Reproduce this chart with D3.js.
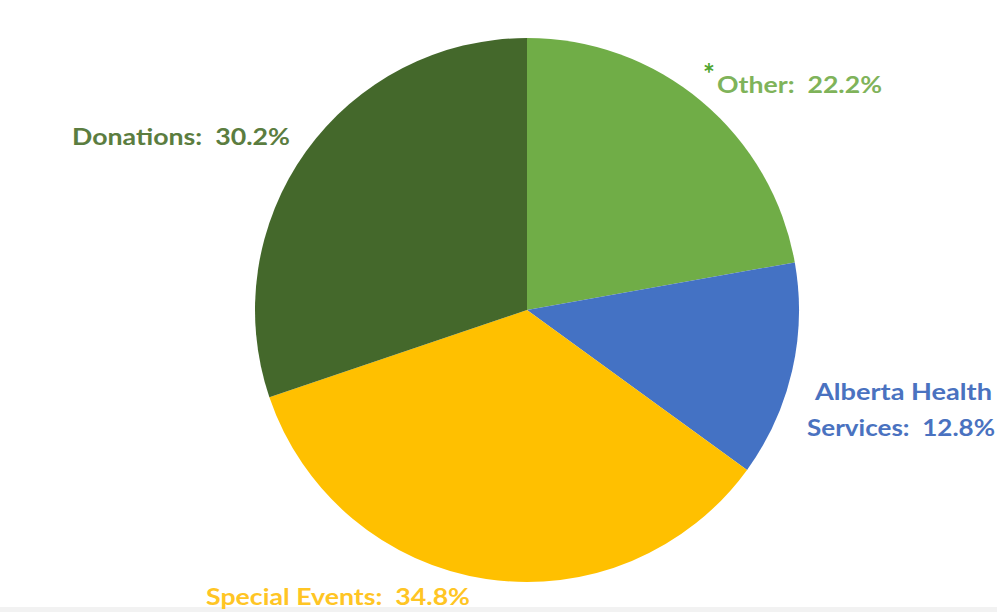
<!DOCTYPE html>
<html>
<head>
<meta charset="utf-8">
<script src="https://d3js.org/d3.v7.min.js"></script>
<style>
  body { margin: 0; background: #fff; }
  svg { display: block; }
  text { font-family: Lato, "Open Sans", sans-serif; font-weight: bold; white-space: pre; }
</style>
</head>
<body>
<div id="chart"></div>
<script>
// data
var categories = ["Other", "Alberta Health Services", "Special Events", "Donations"];
var values = [22.2, 12.8, 34.8, 30.2];
var labels = [["Other:  22.2%"], ["Alberta Health", "Services:  12.8%"], ["Special Events:  34.8%"], ["Donations:  30.2%"]];

var width = 997, height = 612;
var cx = 527, cy = 310, radius = 272;

var sliceColor = d3.scaleOrdinal()
    .domain(categories)
    .range(["#70ad47", "#4472c4", "#ffc000", "#44682b"]);
var labelColor = d3.scaleOrdinal()
    .domain(categories)
    .range(["#7fb35a", "#4a72c0", "#ffc524", "#5b7d40"]);

// label placement: left x, baseline y, width of each line
var labelPos = [
  {x: [717], y: 93, w: [165]},
  {x: [815, 807], y: 400, w: [177, 188]},
  {x: [206], y: 605, w: [264]},
  {x: [72], y: 145, w: [218]}
];

var svg = d3.select("#chart")
  .append("svg")
    .attr("width", width)
    .attr("height", height);

// faint grey strip at the bottom of the scan
svg.append("rect")
    .attr("x", 0).attr("y", 607)
    .attr("width", width).attr("height", 5)
    .attr("fill", "#f2f2f2");

var pie = d3.pie().sort(null).value(function(d) { return d; });
var arc = d3.arc().innerRadius(0).outerRadius(radius);

var g = svg.append("g")
    .attr("transform", "translate(" + cx + "," + cy + ")");

g.selectAll("path")
  .data(pie(values))
  .enter()
  .append("path")
    .attr("d", arc)
    .attr("fill", function(d, i) { return sliceColor(categories[i]); });

// labels
categories.forEach(function(c, i) {
  var p = labelPos[i];
  labels[i].forEach(function(line, j) {
    svg.append("text")
      .attr("x", p.x[j])
      .attr("y", p.y + j * 36)
      .attr("font-size", 23)
      .attr("fill", labelColor(c))
      .attr("textLength", p.w[j])
      .attr("lengthAdjust", "spacingAndGlyphs")
      .text(line);
  });
});

// asterisk next to Other
svg.append("text")
    .attr("x", 703)
    .attr("y", 84)
    .attr("font-size", 28)
    .attr("fill", "#4fa52e")
    .text("*");
</script>
</body>
</html>
